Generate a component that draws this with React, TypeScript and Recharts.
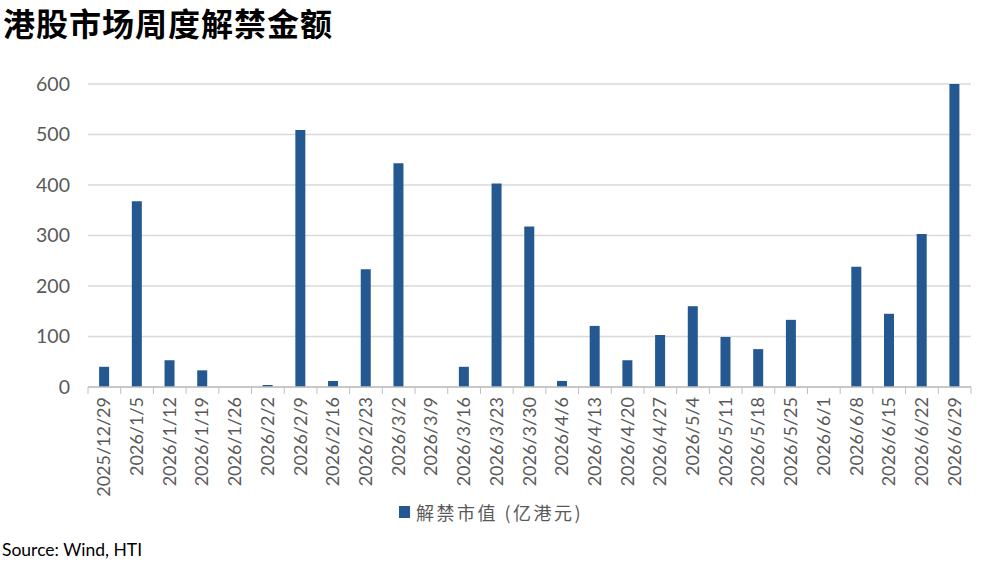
import { BarChart, Bar, XAxis, YAxis, CartesianGrid } from "recharts";

const weeks = [
  "2025/12/29", "2026/1/5", "2026/1/12", "2026/1/19", "2026/1/26", "2026/2/2",
  "2026/2/9", "2026/2/16", "2026/2/23", "2026/3/2", "2026/3/9", "2026/3/16",
  "2026/3/23", "2026/3/30", "2026/4/6", "2026/4/13", "2026/4/20", "2026/4/27",
  "2026/5/4", "2026/5/11", "2026/5/18", "2026/5/25", "2026/6/1", "2026/6/8",
  "2026/6/15", "2026/6/22", "2026/6/29",
];

const unlockValues = [
  40, 368, 53, 33, 0, 4, 509, 12, 233, 443, 0, 40, 403, 318, 12, 121, 53, 103,
  160, 99, 75, 133, 0, 238, 145, 303, 600,
];

const yTicks = [0, 100, 200, 300, 400, 500, 600];

const seriesName = "解禁市值 (亿港元)";

const data = weeks.map((w, i) => ({ week: w, value: unlockValues[i] }));

const BAR = "#245891";
const TEXT = "#595959";
const FONT = "Lato, 'Open Sans', sans-serif";

function WeekTick(props: any) {
  const { x, y, payload, index } = props;
  const half = payload.offset ?? 0;
  const last = index === weeks.length - 1;
  return (
    <g>
      <line x1={x - half} x2={x - half} y1={y} y2={y + 7} stroke="#bfbfbf" />
      {last && <line x1={x + half} x2={x + half} y1={y} y2={y + 7} stroke="#bfbfbf" />}
      <text
        x={0}
        y={0}
        transform={`translate(${x + 6}, ${y + 10}) rotate(-90)`}
        textAnchor="end"
        fill={TEXT}
        fontSize={18}
        fontFamily={FONT}
      >
        {payload.value}
      </text>
    </g>
  );
}

export default function App() {
  return (
    <div style={{ position: "absolute", left: 0, top: 0, width: 993, height: 564, background: "#fff" }}>
      <div
        style={{
          position: "absolute",
          left: 3,
          top: 1,
          fontSize: 32,
          fontWeight: 700,
          color: "#000",
          fontFamily: "'Noto Sans CJK SC', sans-serif",
          letterSpacing: 1,
          lineHeight: "42px",
        }}
      >
        港股市场周度解禁金额
      </div>
      <BarChart
        width={993}
        height={564}
        data={data}
        margin={{ top: 84, right: 22, bottom: 0, left: 0 }}
        barCategoryGap="34%"
      >
        <CartesianGrid vertical={false} stroke="#d9d9d9" strokeWidth={1.5} />
        <XAxis
          dataKey="week"
          interval={0}
          height={177}
          tickLine={false}
          axisLine={{ stroke: "#bfbfbf", strokeWidth: 1.5 }}
          tick={<WeekTick />}
          tickMargin={0}
          tickSize={0}
        />
        <YAxis
          domain={[0, 600]}
          ticks={yTicks}
          width={88}
          axisLine={false}
          tickLine={false}
          tickSize={0}
          tickMargin={18}
          tick={{ fill: TEXT, fontSize: 19.5, fontFamily: FONT }}
        />
        <Bar dataKey="value" name={seriesName} fill={BAR} isAnimationActive={false} />
      </BarChart>
      <div
        style={{
          position: "absolute",
          left: 399,
          top: 499,
          display: "flex",
          alignItems: "center",
          color: TEXT,
        }}
      >
        <span style={{ width: 11, height: 12, background: BAR, marginRight: 6 }} />
        <span style={{ fontSize: 18, letterSpacing: 2.5, fontFamily: "'Noto Sans CJK SC', sans-serif" }}>
          {seriesName}
        </span>
      </div>
      <div
        style={{
          position: "absolute",
          left: 2,
          top: 539,
          fontSize: 17.5,
          color: "#000",
          fontFamily: FONT,
        }}
      >
        Source: Wind, HTI
      </div>
    </div>
  );
}
